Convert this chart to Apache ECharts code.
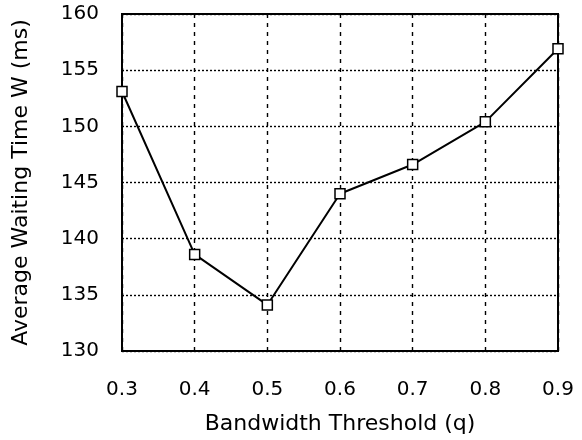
<!DOCTYPE html>
<html><head><meta charset="utf-8">
<script src="https://cdn.jsdelivr.net/npm/echarts@6/dist/echarts.min.js"></script>
<style>html,body{margin:0;padding:0;background:#fff}#c{width:582px;height:440px}</style>
</head><body><div id="c"></div>
<script>
const categories = ['0.3','0.4','0.5','0.6','0.7','0.8','0.9'];
const waitingTime = [153.1, 138.6, 134.1, 144.0, 146.6, 150.4, 156.9];
const xTitle = 'Bandwidth Threshold (q)';
const yTitle = 'Average Waiting Time W (ms)';
const font = 'DejaVu Sans';
const chart = echarts.init(document.getElementById('c'), null, {renderer:'canvas'});
chart.setOption({
  animation:false,
  backgroundColor:'#fff',
  grid:{left:122,right:24,top:14,bottom:79,show:true,borderColor:'#000',borderWidth:2,backgroundColor:'transparent'},
  xAxis:{type:'category',data:categories,boundaryGap:false,
    name:xTitle,nameLocation:'middle',nameGap:62,
    nameTextStyle:{fontFamily:font,fontSize:22,color:'#000'},
    axisLine:{show:false},axisTick:{show:false},
    axisLabel:{fontFamily:font,fontSize:20,color:'#000',margin:29},
    splitLine:{show:true,lineStyle:{color:'#000',type:[4,5],width:1.4}}},
  yAxis:{type:'value',min:130,max:160,interval:5,
    name:yTitle,nameLocation:'middle',nameGap:90,
    nameTextStyle:{fontFamily:font,fontSize:22,color:'#000'},
    axisLine:{show:false},axisTick:{show:false},
    axisLabel:{fontFamily:font,fontSize:20,color:'#000',margin:23},
    splitLine:{show:true,lineStyle:{color:'#000',type:[2,2],width:1.4}}},
  series:[{type:'line',data:waitingTime,symbol:'rect',symbolSize:10,
    lineStyle:{color:'#000',width:2},
    itemStyle:{color:'#fff',borderColor:'#000',borderWidth:1.5}}]
});
</script></body></html>
